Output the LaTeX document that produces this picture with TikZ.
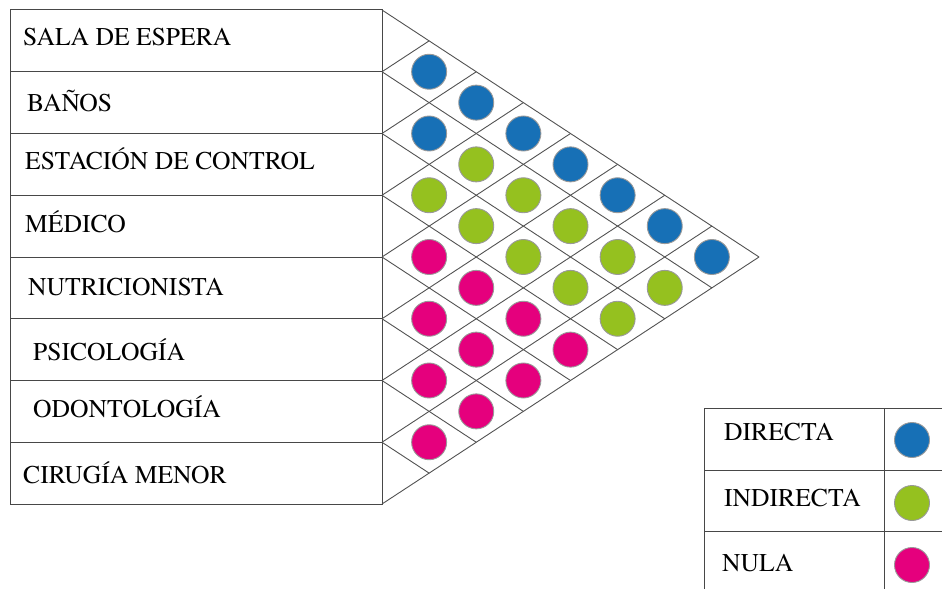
\documentclass[tikz,border=0pt]{standalone}
\usepackage{fontspec}
\setmainfont{TeX Gyre Termes}
\definecolor{relblue}{HTML}{1770B6}
\definecolor{relgreen}{HTML}{95C11F}
\definecolor{relpink}{HTML}{E5007D}
\begin{document}
\begin{tikzpicture}[x=1bp,y=-1bp,
  rule/.style={draw=black!72, line width=1bp},
  gridline/.style={draw=black!68, line width=0.9bp},
  lbl/.style={anchor=base west, inner sep=0pt, font=\fontsize{25.6bp}{30bp}\selectfont},
  dot/.style={circle, minimum size=35bp, inner sep=0pt, draw=black!40, line width=0.9bp},
  rdir/.style={dot, fill=relblue},
  rind/.style={dot, fill=relgreen},
  rnul/.style={dot, fill=relpink}]
\useasboundingbox (0,0) rectangle (942,589);
\pgfmathsetmacro{\rh}{61.75}   % row height
\pgfmathsetmacro{\dx}{47.125}  % half width of a diamond cell

% list of areas
\draw[rule] (10,10) rectangle (382,504);
\foreach \k in {1,...,7}
  \draw[rule] (10,10+\k*\rh) -- (382,10+\k*\rh);

\node[lbl] (a1) at (23,46)  {SALA DE ESPERA};
\node[lbl] (a2) at (27,112) {BAÑOS};
\node[lbl] (a3) at (25,170) {ESTACIÓN DE CONTROL};
\node[lbl] (a4) at (25,233) {MÉDICO};
\node[lbl] (a5) at (28,295) {NUTRICIONISTA};
\node[lbl] (a6) at (33,360) {PSICOLOGÍA};
\node[lbl] (a7) at (33,417) {ODONTOLOGÍA};
\node[lbl] (a8) at (23,483) {CIRUGÍA MENOR};

% triangular relationship grid
\foreach \k in {0,...,8}{
  \coordinate (b\k) at (382,10+\k*\rh);
  \draw[gridline] (b\k) -- ++({(8-\k)*\dx},{(8-\k)*\rh/2});
  \draw[gridline] (b\k) -- ++({\k*\dx},{-\k*\rh/2});
}

% relationship marks, one per pair of areas
\foreach \i/\j/\st in {1/2/rdir,1/3/rdir,2/3/rdir,1/4/rdir,1/5/rdir,1/6/rdir,1/7/rdir,1/8/rdir,
                       2/4/rind,3/4/rind,2/5/rind,3/5/rind,2/6/rind,3/6/rind,2/7/rind,3/7/rind,2/8/rind,3/8/rind,
                       4/5/rnul,4/6/rnul,5/6/rnul,4/7/rnul,5/7/rnul,6/7/rnul,4/8/rnul,5/8/rnul,6/8/rnul,7/8/rnul}
  \node[\st] (c\i-\j) at ({382+(\j-\i)*\dx},{10+\rh*(\i+\j-1)/2}) {};

% legend
\draw[rule] (704,589) -- (704,408) -- (942,408);
\draw[rule] (704,470) -- (942,470);
\draw[rule] (704,531) -- (942,531);
\draw[rule] (884,408) -- (884,589);
\node[lbl] (l1) at (724,440) {DIRECTA};
\node[lbl] (l2) at (724,506) {INDIRECTA};
\node[lbl] (l3) at (722,571) {NULA};
\node[rdir] (k1) at (912,440) {};
\node[rind] (k2) at (912,503) {};
\node[rnul] (k3) at (912,565) {};
\end{tikzpicture}
\end{document}
